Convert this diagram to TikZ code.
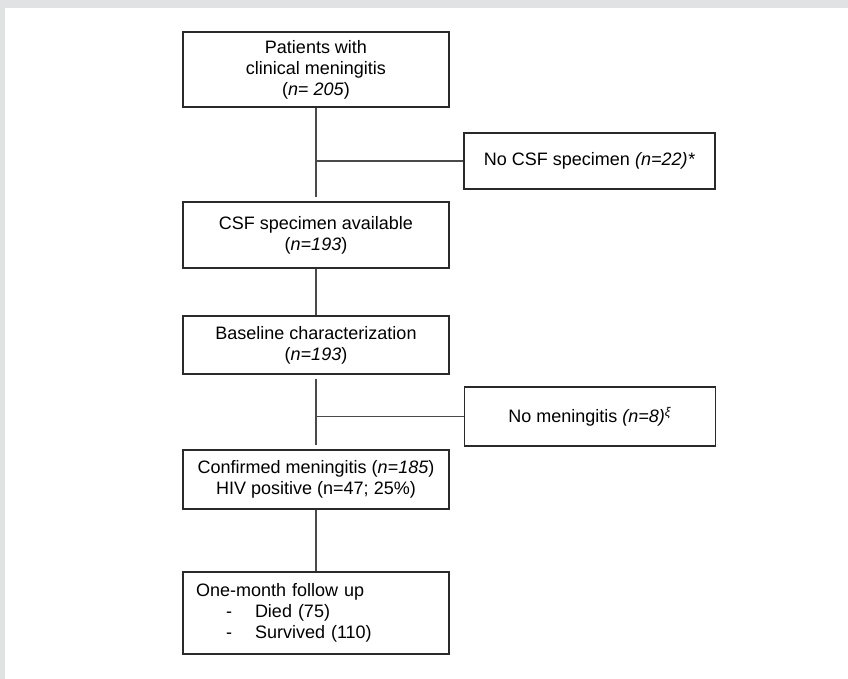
\documentclass[tikz,border=0pt]{standalone}
\usepackage{fontspec}
\setmainfont{Liberation Sans}
\definecolor{bggray}{HTML}{E1E2E4}
\definecolor{boxline}{HTML}{2A2A2A}
\definecolor{connline}{HTML}{4A4A4A}
\begin{document}
\begin{tikzpicture}[x=1pt,y=-1pt,
  box/.style={draw=boxline,line width=1.2pt,fill=white,inner sep=0pt,
    minimum width=266pt,align=center,font=\fontsize{18}{21}\selectfont},
  sidebox/.style={box,minimum width=251pt},
  conn/.style={draw=connline,line width=1.1pt}]
\fill[bggray] (0,0) rectangle (848,679);
\fill[white] (5,8) rectangle (848,679);
\useasboundingbox (0,0) rectangle (848,679);
\node[box,minimum height=75pt] (b1) at (316,69.5) {Patients with\\clinical meningitis\\(\textit{n}= \textit{205})};
\node[sidebox,minimum height=56pt] (b2) at (589.5,161) {No CSF specimen \textit{(n=22)*}};
\node[box,minimum height=66pt] (b3) at (316,235) {CSF specimen available\\(\textit{n=193})};
\node[box,minimum height=58pt] (b4) at (316,345) {Baseline characterization\\(\textit{n=193})};
\node[sidebox,minimum height=59pt] (b5) at (590,416.5) {No meningitis \textit{(n=8)}\textsuperscript{\textit{ξ}}};
\node[box,minimum height=59pt] (b6) at (316,479.5) {Confirmed meningitis (\textit{n=185})\\HIV positive (n=47; 25\%)};
\node[box,minimum height=82pt,text width=240pt,align=left] (b7) at (316,613) {One-month follow up\\\hspace*{30pt}\makebox[29pt][l]{-}Died (75)\\\hspace*{30pt}\makebox[29pt][l]{-}Survived (110)};
\coordinate (j1) at (b1.south |- b2.west);
\coordinate (j2) at (b4.south |- b5.west);
\draw[conn,shorten >=4pt] (b1.south) -- (b3.north);
\draw[conn] (j1) -- (b2.west);
\draw[conn] (b3.south) -- (b4.north);
\draw[conn,shorten <=4pt,shorten >=4pt] (b4.south) -- (b6.north);
\draw[conn] (j2) -- (b5.west);
\draw[conn] (b6.south) -- (b7.north);
\end{tikzpicture}
\end{document}
